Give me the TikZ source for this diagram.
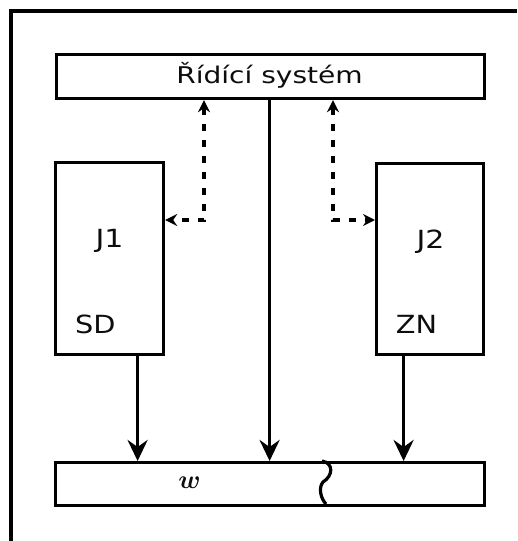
\documentclass[tikz,border=0pt]{standalone}
\usepackage{fontspec}
\setmainfont{DejaVu Sans}
\usetikzlibrary{arrows.meta,calc}
\definecolor{ink}{gray}{0.05}
\tikzset{
  frameline/.style={line width=3.2pt},
  box/.style={draw, line width=3.2pt, inner sep=0pt, anchor=north west},
  solidarr/.style={line width=3.2pt, -{Stealth[length=21pt,width=20pt,inset=7pt]}},
  dasharr/.style={line width=3.4pt, dash pattern=on 7pt off 9pt,
     {Stealth[length=12pt,width=12pt,inset=4pt]}-{Stealth[length=12pt,width=12pt,inset=4pt]}},
  toplabel/.style={text=ink, inner sep=0pt, anchor=base, font=\fontsize{23}{23}\selectfont},
  jlabel/.style={text=ink, inner sep=0pt, anchor=base, font=\fontsize{25}{25}\selectfont},
  wavy/.style={line width=3.2pt}
}
\begin{document}
\begin{tikzpicture}[x=1pt,y=-1pt]
\useasboundingbox (0,0) rectangle (517,541);
% outer frame (cut at right and bottom)
\coordinate (fr1) at (517,11);
\coordinate (fr2) at (11,11);
\coordinate (fr3) at (11,541);
\draw[frameline] (fr1) -- (fr2) -- (fr3);
% boxes
\node[box, minimum width=428pt, minimum height=44pt] (ctrl) at (55,53) {};
\node[box, minimum width=108pt, minimum height=192pt] (J1) at (54,161) {};
\node[box, minimum width=107pt, minimum height=191pt] (J2) at (375,162) {};
\node[box, minimum width=429pt, minimum height=43pt] (bot) at (54,461) {};
% labels
\node[toplabel] (ctrltext) at (269.5,83) {\scalebox{1.22}[1]{Řídící systém}};
\node[jlabel] (j1text) at (109.5,247.7) {\scalebox{1.2}[1]{J1}};
\node[jlabel] (sdtext) at (95.3,333) {\scalebox{1.15}[1]{SD}};
\node[jlabel] (j2text) at (430.5,248.5) {\scalebox{1.2}[1]{J2}};
\node[jlabel] (zntext) at (416.5,333) {\scalebox{1.15}[1]{ZN}};
\node[text=ink, inner sep=0pt, anchor=base] (wtext) at (189.5,488) {\scalebox{2.6}{\boldmath$w$}};
% solid arrows
\draw[solidarr] ([xshift=28pt]J1.south) -- ([xshift=28pt]J1.south |- bot.north);
\draw[solidarr] ([xshift=-1pt]ctrl.south) -- ([xshift=-1pt]ctrl.south |- bot.north);
\draw[solidarr] ([xshift=-26.5pt]J2.south) -- ([xshift=-26.5pt]J2.south |- bot.north);
% dashed bidirectional arrows
\coordinate (c1) at (204,220);
\coordinate (c2) at (333,220);
\draw[dasharr] (ctrl.south -| c1) -- (c1) -- (c1 -| J1.east);
\draw[dasharr] (ctrl.south -| c2) -- (c2) -- (c2 -| J2.west);
% break line in the bottom box
\coordinate (b1) at (322,461);
\coordinate (b2) at (323,482);
\coordinate (b3) at (326,504);
\draw[wavy] (b1) .. controls (334,463) and (333,476) .. (b2) .. controls (318,488) and (321,499) .. (b3);
\end{tikzpicture}
\end{document}
